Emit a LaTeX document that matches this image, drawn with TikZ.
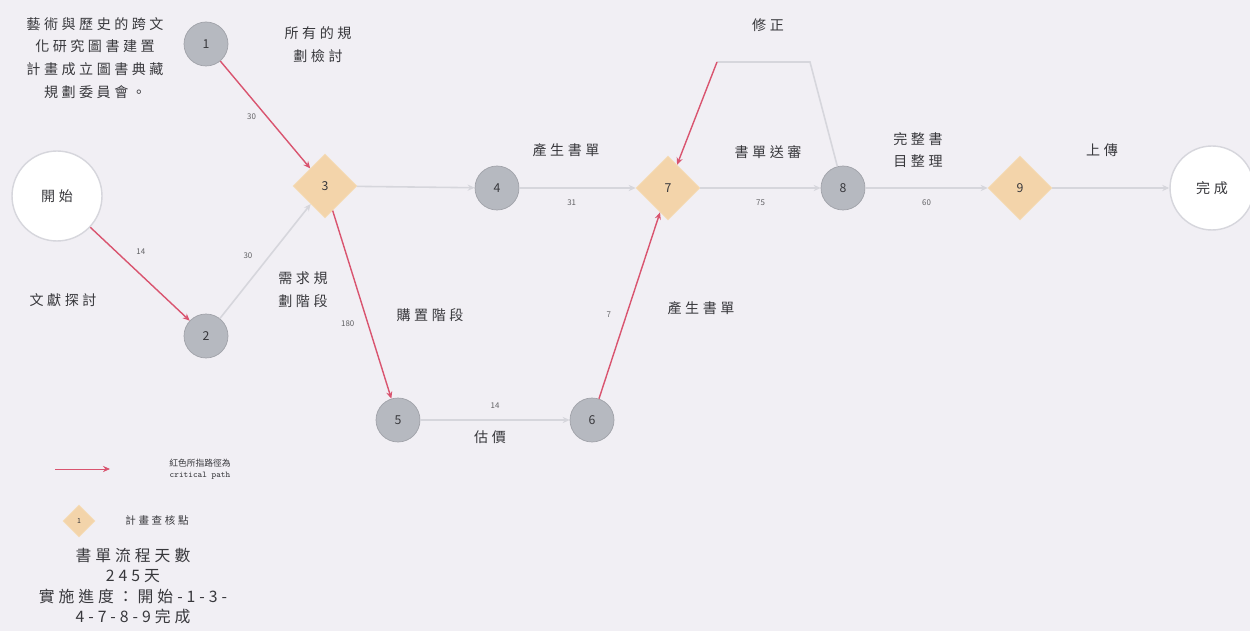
\documentclass[tikz,border=0pt]{standalone}
\usepackage{fontspec}
\setmainfont{Noto Sans CJK TC}
\newfontfamily\cjk[LetterSpace=25]{Noto Sans CJK TC}
\usetikzlibrary{shapes.geometric,arrows.meta}
\definecolor{bgpaper}{HTML}{F1EFF4}
\definecolor{critred}{HTML}{D9546F}
\definecolor{lightln}{HTML}{D6D6DC}
\definecolor{evgray}{HTML}{B6B9C0}
\definecolor{evline}{HTML}{A0A2A9}
\definecolor{chkfill}{HTML}{F3D4AA}
\definecolor{txtgray}{HTML}{38383C}
\begin{document}
\begin{tikzpicture}[x=0.02cm,y=-0.02cm,>={Stealth[length=4pt,width=3.5pt]},
    event/.style={circle,fill=evgray,draw=evline,line width=0.4pt,minimum size=0.88cm,inner sep=0pt,font=\fontsize{7}{8}\selectfont,text=txtgray},
    check/.style={diamond,fill=chkfill,draw=chkfill!80!white,line width=0.4pt,minimum size=1.28cm,inner sep=0pt,font=\fontsize{7}{8}\selectfont,text=txtgray},
    term/.style={circle,fill=white,draw=lightln,line width=0.8pt,inner sep=0pt,font=\cjk\fontsize{8}{9}\selectfont,text=txtgray},
    crit/.style={->,draw=critred,line width=0.8pt},
    plain/.style={->,draw=lightln,line width=0.9pt},
    lbl/.style={font=\cjk\fontsize{8}{13}\selectfont,text=txtgray,align=center},
    num/.style={font=\fontsize{4.5}{5}\selectfont,text=txtgray!80}]
\fill[bgpaper] (0,0) rectangle (1250,631);
\useasboundingbox (0,0) rectangle (1250,631);
% events
\node[term,minimum size=1.8cm] (start) at (57,196) {開始};
\node[event] (n1) at (206,44) {1};
\node[event] (n2) at (206,336) {2};
\node[check] (n3) at (325,186) {3};
\node[event] (n4) at (497,188) {4};
\node[event] (n5) at (398,420) {5};
\node[event] (n6) at (592,420) {6};
\node[check] (n7) at (668,188) {7};
\node[event] (n8) at (843,188) {8};
\node[check] (n9) at (1020,188) {9};
\node[term,minimum size=1.68cm] (finish) at (1212,188) {完成};
\coordinate (fb1) at (810,62);
\coordinate (fb2) at (717,62);
% connectors
\draw[crit] (n1) -- (n3) node[num,pos=0.45,below left=-1pt] {30};
\draw[crit] (start) -- (n2) node[num,pos=0.38,above right=1pt] {14};
\draw[plain] (n2) -- (n3) node[num,pos=0.45,above left=1pt] {30};
\draw[plain] (n3) -- (n4);
\draw[plain] (n4) -- (n7) node[num,pos=0.45,below=3pt] {31};
\draw[plain] (n7) -- (n8) node[num,pos=0.5,below=3pt] {75};
\draw[plain] (n8) -- (n9) node[num,pos=0.5,below=3pt] {60};
\draw[plain] (n9) -- (finish);
\draw[crit] (n3) -- (n5) node[num,pos=0.6,left=4pt] {180};
\draw[plain] (n5) -- (n6) node[num,pos=0.5,above=3pt] {14};
\draw[crit] (n6) -- (n7) node[num,pos=0.45,left=5pt] {7};
\draw[lightln,line width=0.9pt] (n8) -- (fb1) -- (fb2);
\draw[crit] (fb2) -- (n7);
% labels
\node[lbl] (t1) at (95,58) {藝術與歷史的跨文\\化研究圖書建置\\計畫成立圖書典藏\\規劃委員會。};
\node[lbl] (t2) at (318,45) {所有的規\\劃檢討};
\node[lbl] (t3) at (63,300) {文獻探討};
\node[lbl] (t4) at (303,290) {需求規\\劃階段};
\node[lbl] (t5) at (430,315) {購置階段};
\node[lbl] (t6) at (566,150) {產生書單};
\node[lbl] (t7) at (701,308) {產生書單};
\node[lbl] (t8) at (490,437) {估價};
\node[lbl] (t9) at (768,25) {修正};
\node[lbl] (t10) at (768,152) {書單送審};
\node[lbl] (t11) at (918,150) {完整書\\目整理};
\node[lbl] (t12) at (1102,150) {上傳};
% legend
\coordinate (lg1) at (55,469);
\coordinate (lg2) at (110,469);
\draw[crit,line width=0.5pt] (lg1) -- (lg2);
\node[align=center,font=\fontsize{5}{6.5}\selectfont,text=txtgray] (lgtxt) at (200,469) {紅色所指路徑為\\\texttt{critical path}};
\node[check,minimum size=0.64cm,font=\fontsize{4}{4}\selectfont] (lgchk) at (79,521) {1};
\node[lbl,font=\cjk\fontsize{6}{7}\selectfont] (lgchktxt) at (157,520) {計畫查核點};
\node[lbl,font=\cjk\fontsize{9}{11.5}\selectfont] (summary) at (133,586) {書單流程天數\\245天\\實施進度：開始-1-3-\\4-7-8-9完成};
\end{tikzpicture}
\end{document}
